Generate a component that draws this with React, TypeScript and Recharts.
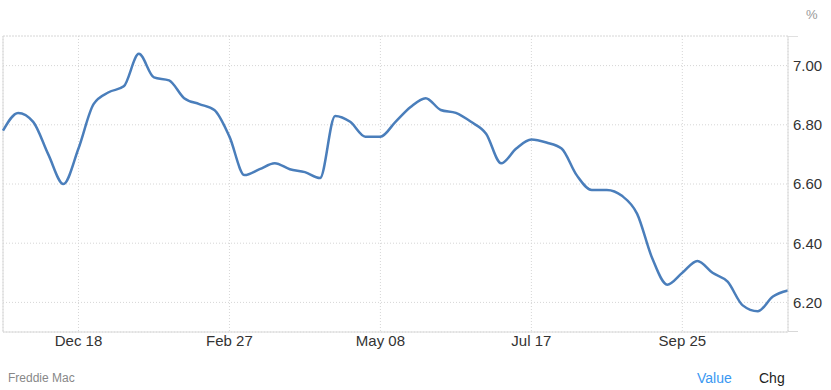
import React from "react";
import { LineChart, Line, XAxis, YAxis, CartesianGrid, ReferenceLine } from "recharts";

const dates = [
  "Nov 14", "Nov 21", "Nov 27", "Dec 05", "Dec 12", "Dec 18", "Dec 26", "Jan 02", "Jan 09", "Jan 16",
  "Jan 23", "Jan 30", "Feb 06", "Feb 13", "Feb 20", "Feb 27", "Mar 06", "Mar 13", "Mar 20", "Mar 27",
  "Apr 03", "Apr 10", "Apr 17", "Apr 24", "May 01", "May 08", "May 15", "May 22", "May 29", "Jun 05",
  "Jun 12", "Jun 18", "Jun 26", "Jul 03", "Jul 10", "Jul 17", "Jul 24", "Jul 31", "Aug 07", "Aug 14",
  "Aug 21", "Aug 28", "Sep 04", "Sep 11", "Sep 18", "Sep 25", "Oct 02", "Oct 09", "Oct 16", "Oct 23",
  "Oct 30", "Nov 06", "Nov 13",
];

const rates = [
  6.78, 6.84, 6.81, 6.7, 6.6, 6.72, 6.87, 6.91, 6.93, 7.04,
  6.96, 6.95, 6.89, 6.87, 6.85, 6.76, 6.63, 6.65, 6.67, 6.65,
  6.64, 6.62, 6.83, 6.81, 6.76, 6.76, 6.81, 6.86, 6.89, 6.85,
  6.84, 6.81, 6.77, 6.67, 6.72, 6.75, 6.74, 6.72, 6.63, 6.58,
  6.58, 6.56, 6.5, 6.35, 6.26, 6.3, 6.34, 6.3, 6.27, 6.19,
  6.17, 6.22, 6.24,
];

const xTicks = ["Dec 18", "Feb 27", "May 08", "Jul 17", "Sep 25"];
const yTicks = [6.2, 6.4, 6.6, 6.8, 7.0];
const yDomain = [6.1, 7.1];

const data = dates.map((d, i) => ({ date: d, value: rates[i] }));

const FONT = "Arial, 'Liberation Sans', Helvetica, sans-serif";

export default function App() {
  return (
    <div
      style={{
        position: "absolute",
        left: 0,
        top: 0,
        width: 831,
        height: 390,
        background: "#fff",
        fontFamily: FONT,
        overflow: "hidden",
      }}
    >
      <LineChart
        width={831}
        height={390}
        data={data}
        margin={{ top: 36, right: 0, bottom: 0, left: 3 }}
        style={{ fontFamily: FONT }}
      >
        <CartesianGrid stroke="#d6d6d6" strokeDasharray="1 2" vertical={true} horizontal={true} />
        <ReferenceLine y={7.1} stroke="#d6d6d6" strokeDasharray="1 2" ifOverflow="extendDomain" />
        <ReferenceLine x="Nov 14" stroke="#d8d8d8" />
        <XAxis
          dataKey="date"
          ticks={xTicks}
          interval={0}
          height={58}
          tickLine={false}
          tickSize={1}
          tickMargin={2}
          axisLine={{ stroke: "#d8d8d8" }}
          tick={{ fill: "#333", fontSize: 15 }}
        />
        <YAxis
          orientation="right"
          width={43}
          domain={yDomain}
          ticks={yTicks}
          allowDataOverflow
          tickFormatter={(v: number) => v.toFixed(2)}
          tickLine={false}
          tickSize={2}
          tickMargin={3}
          axisLine={{ stroke: "#d8d8d8" }}
          tick={{ fill: "#333", fontSize: 15 }}
        />
        <Line
          type="monotone"
          dataKey="value"
          stroke="#4a7ebb"
          strokeWidth={2.5}
          dot={false}
          activeDot={false}
          isAnimationActive={false}
        />
      </LineChart>
      <div style={{ position: "absolute", left: 788, top: 36, width: 10, height: 1, background: "#e0e0e0" }} />
      <div style={{ position: "absolute", left: 788, top: 331, width: 10, height: 1, background: "#d8d8d8" }} />
      <div style={{ position: "absolute", left: 806, top: 7, fontSize: 13, color: "#999" }}>%</div>
      <div style={{ position: "absolute", left: 8, top: 371, fontSize: 12, color: "#888" }}>Freddie Mac</div>
      <div style={{ position: "absolute", left: 697, top: 370, fontSize: 14, color: "#3a98f2" }}>Value</div>
      <div style={{ position: "absolute", left: 759, top: 370, fontSize: 14, color: "#222" }}>Chg</div>
    </div>
  );
}
